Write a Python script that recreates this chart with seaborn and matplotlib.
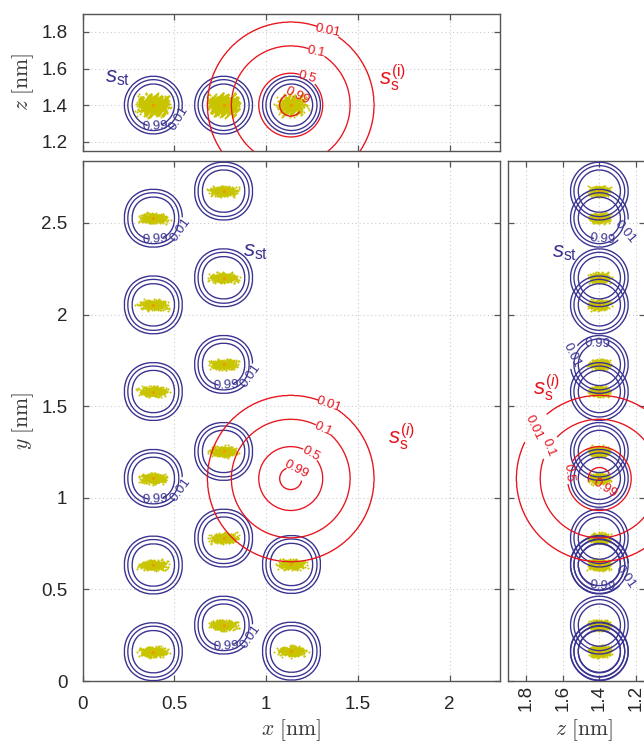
import numpy as np
import pandas as pd
import matplotlib
matplotlib.use("Agg")
import matplotlib.pyplot as plt
import seaborn as sns

# ---------------------------------------------------------------- data
# atom centres [nm]
atom_x = [0.385] * 6 + [0.768] * 6 + [1.138] * 2
atom_y = [0.160, 0.633, 1.106, 1.580, 2.053, 2.526,
          0.305, 0.780, 1.253, 1.728, 2.201, 2.674,
          0.163, 0.636]
atom_z = [1.40] * 14

# half-widths of the sampled thermal clouds along x, y, z [nm]
cloud_half = [0.1, 0.038, 0.075]
samples_per_atom = 350

# structural switching function s_st: contour levels and their radii [nm]
st_levels = [0.99, 0.5, 0.01]
st_radii = [0.116, 0.139, 0.157]

# site switching function s_s^(i): centre, levels and radii [nm]
ss_center = [1.134, 1.105, 1.40]
ss_levels = [0.99, 0.5, 0.1, 0.01]
ss_radii = [0.061, 0.174, 0.323, 0.453]

xy_ticks = [0, 0.5, 1, 1.5, 2]
y_ticks = [0, 0.5, 1, 1.5, 2, 2.5]
z_ticks = [1.2, 1.4, 1.6, 1.8]

BLUE = "#3a3391"
RED = "#e8141e"
YELLOW = "#c9c400"
ORANGE = "#f09a00"

# ---------------------------------------------------------------- helpers
def r_sequence(n, dim, start):
    g = 2.0
    for _ in range(60):
        g = (1.0 + g) ** (1.0 / (dim + 1))
    alpha = (1.0 / g) ** np.arange(1, dim + 1)
    idx = np.arange(start, start + n)[:, None]
    return (0.5 + idx * alpha) % 1.0


def cloud_points():
    rows = []
    for i, (cx, cy, cz) in enumerate(zip(atom_x, atom_y, atom_z)):
        u = r_sequence(samples_per_atom, 9, 7 + i * samples_per_atom)
        bell = [(u[:, 3 * k:3 * k + 3].sum(axis=1) - 1.5) / 1.5 for k in range(3)]
        rows.append(pd.DataFrame({
            "x": cx + cloud_half[0] * bell[0],
            "y": cy + cloud_half[1] * bell[1],
            "z": cz + cloud_half[2] * bell[2],
        }))
    return pd.concat(rows, ignore_index=True)


st_r = [0.0] + st_radii + [st_radii[-1] + 0.05]
st_s = [1.0] + st_levels + [0.0]
ss_r = [0.0] + ss_radii + [ss_radii[-1] + 0.2]
ss_s = [1.0] + ss_levels + [0.0]


def fmt(v):
    return f"{v:g}"


def contour_levels(ax, U, V, S, levels, color, labels, zorder):
    """Draw each level separately so that each can carry its own label."""
    for lev in levels:
        cs = ax.contour(U, V, S, levels=[lev], colors=color,
                        linewidths=0.95, zorder=zorder)
        pt = labels.get(lev)
        if pt is not None:
            ax.clabel(cs, manual=[pt], fmt=fmt, fontsize=9.5,
                      inline_spacing=2, colors=color)


def draw_st(ax, cu, cv, p, labels=None):
    u = np.linspace(cu - 0.22, cu + 0.22, 261)
    v = np.linspace(cv - 0.22, cv + 0.22, 261)
    U, V = np.meshgrid(u, v)
    d = (np.abs(U - cu) ** p + np.abs(V - cv) ** p) ** (1.0 / p)
    S = np.interp(d, st_r, st_s)
    contour_levels(ax, U, V, S, st_levels, BLUE, labels or {}, 3)


def draw_ss(ax, cu, cv, labels):
    u = np.linspace(cu - 0.65, cu + 0.65, 521)
    v = np.linspace(cv - 0.65, cv + 0.65, 521)
    U, V = np.meshgrid(u, v)
    S = np.interp(np.hypot(U - cu, V - cv), ss_r, ss_s)
    contour_levels(ax, U, V, S, ss_levels, RED, labels, 4)


def style(ax):
    for s in ax.spines.values():
        s.set_visible(True)
        s.set_color("#555555")
        s.set_linewidth(1.0)
    ax.tick_params(direction="in", length=4.5, width=0.9, color="#555555",
                   labelcolor="#262626", labelsize=13.5, pad=11,
                   top=True, right=True)
    ax.grid(True, ls=(0, (1, 2.5)), color="#cccccc", lw=0.8)
    ax.set_axisbelow(True)


# ---------------------------------------------------------------- figure
sns.set_style("ticks")
plt.rcParams["font.family"] = ["Liberation Sans", "DejaVu Sans"]
plt.rcParams.update({
    "mathtext.fontset": "custom",
    "mathtext.rm": "Liberation Sans",
    "mathtext.it": "Liberation Sans:italic",
    "mathtext.bf": "Liberation Sans:bold",
    "mathtext.sf": "Liberation Sans",
})

W, H = 644, 744
fig = plt.figure(figsize=(W / 100, H / 100), dpi=100)
ax_xy = fig.add_axes([82.7 / W, (H - 681) / H, 417 / W, 520.5 / H])
ax_xz = fig.add_axes([82.7 / W, (H - 151) / H, 417 / W, 137 / H])
ax_zy = fig.add_axes([508 / W, (H - 681) / H, 137.2 / W, 520.5 / H])

pts = cloud_points()
centres = pd.DataFrame({"x": atom_x, "y": atom_y, "z": atom_z})

label_color = "#3a3a3a"
P_XY, P_PROJ = 2.15, 2.0

# ---- x-y projection
ax = ax_xy
sns.scatterplot(data=pts, x="x", y="y", ax=ax, color=YELLOW, s=2.2,
                linewidth=0, legend=False, zorder=2)
sns.scatterplot(data=centres, x="x", y="y", ax=ax, color=ORANGE, s=5,
                linewidth=0, legend=False, zorder=2.5)
xy_labels = {5: {0.99: (0.398, 2.43), 0.01: (0.538, 2.447)},
             9: {0.99: (0.781, 1.632), 0.01: (0.921, 1.649)},
             2: {0.99: (0.398, 1.010), 0.01: (0.538, 1.027)},
             6: {0.99: (0.781, 0.209), 0.01: (0.921, 0.226)}}
for i, (cx, cy) in enumerate(zip(atom_x, atom_y)):
    draw_st(ax, cx, cy, P_XY, xy_labels.get(i))
draw_ss(ax, ss_center[0], ss_center[1],
        {0.99: (1.167, 1.158), 0.5: (1.245, 1.249),
         0.1: (1.311, 1.376), 0.01: (1.339, 1.503)})
ax.text(0.94, 2.345, r"$s_{\mathrm{st}}$", color=BLUE, fontsize=16,
        ha="center", va="center")
ax.text(1.74, 1.33, r"$s_{\mathrm{s}}^{(i)}$", color=RED, fontsize=16,
        ha="center", va="center")
ax.set_xlim(0, 2.273)
ax.set_ylim(0, 2.841)
ax.set_xticks(xy_ticks, [fmt(t) for t in xy_ticks])
ax.set_yticks(y_ticks, [fmt(t) for t in y_ticks])
style(ax)
ax.set_xlabel(r"$x\ [\mathrm{nm}]$", fontsize=15.5, color=label_color,
              math_fontfamily="cm", labelpad=3)
ax.set_ylabel(r"$y\ [\mathrm{nm}]$", fontsize=15.5, color=label_color,
              math_fontfamily="cm", labelpad=4)

# ---- x-z projection
ax = ax_xz
sns.scatterplot(data=pts, x="x", y="z", ax=ax, color=YELLOW, s=2.2,
                linewidth=0, legend=False, zorder=2)
sns.scatterplot(data=centres, x="x", y="z", ax=ax, color=ORANGE, s=5,
                linewidth=0, legend=False, zorder=2.5)
seen = set()
for cx, cz in zip(atom_x, atom_z):
    key = (round(cx, 3), round(cz, 3))
    if key in seen:
        continue
    seen.add(key)
    if cx < 0.5:
        draw_st(ax, cx, cz, P_PROJ, {0.99: (0.393, 1.309), 0.01: (0.52, 1.333)})
    else:
        draw_st(ax, cx, cz, P_PROJ)
draw_ss(ax, ss_center[0], ss_center[2],
        {0.99: (1.17, 1.479), 0.5: (1.225, 1.559),
         0.1: (1.275, 1.692), 0.01: (1.339, 1.82)})
ax.text(0.19, 1.55, r"$s_{\mathrm{st}}$", color=BLUE, fontsize=16,
        ha="center", va="center")
ax.text(1.69, 1.545, r"$s_{\mathrm{s}}^{(\mathrm{i})}$", color=RED,
        fontsize=16, ha="center", va="center")
ax.set_xlim(0, 2.273)
ax.set_ylim(1.149, 1.898)
ax.set_xticks(xy_ticks)
ax.set_yticks(z_ticks, [fmt(t) for t in z_ticks])
style(ax)
ax.tick_params(labelbottom=False)
ax.set_xlabel("")
ax.set_ylabel(r"$z\ [\mathrm{nm}]$", fontsize=15.5, color=label_color,
              math_fontfamily="cm", labelpad=4)

# ---- z-y projection
ax = ax_zy
sns.scatterplot(data=pts, x="z", y="y", ax=ax, color=YELLOW, s=2.2,
                linewidth=0, legend=False, zorder=2)
sns.scatterplot(data=centres, x="z", y="y", ax=ax, color=ORANGE, s=5,
                linewidth=0, legend=False, zorder=2.5)
zy_labels = {5: {0.99: (1.383, 2.429), 0.01: (1.255, 2.447)},
             9: {0.99: (1.41, 1.825), 0.01: (1.565, 1.794)},
             1: {0.99: (1.383, 0.541), 0.01: (1.255, 0.568)}}
for i, (cz, cy) in enumerate(zip(atom_z, atom_y)):
    draw_st(ax, cz, cy, P_PROJ, zy_labels.get(i))
draw_ss(ax, ss_center[2], ss_center[1],
        {0.99: (1.356, 1.04), 0.5: (1.592, 1.14),
         0.1: (1.684, 1.276), 0.01: (1.774, 1.385)})
ax.text(1.59, 2.34, r"$s_{\mathrm{st}}$", color=BLUE, fontsize=16,
        ha="center", va="center")
ax.text(1.69, 1.60, r"$s_{\mathrm{s}}^{(i)}$", color=RED, fontsize=16,
        ha="center", va="center")
ax.set_xlim(1.9, 1.149)
ax.set_ylim(0, 2.841)
ax.set_xticks(z_ticks, [fmt(t) for t in z_ticks], rotation=90)
ax.set_yticks(y_ticks)
style(ax)
ax.tick_params(labelleft=False)
ax.tick_params(axis="x", pad=3)
ax.set_ylabel("")
ax.set_xlabel(r"$z\ [\mathrm{nm}]$", fontsize=15.5, color=label_color,
              math_fontfamily="cm", labelpad=0)
ax.xaxis.set_label_coords(0.55, -0.069)

fig.savefig("out.png", dpi=100)
